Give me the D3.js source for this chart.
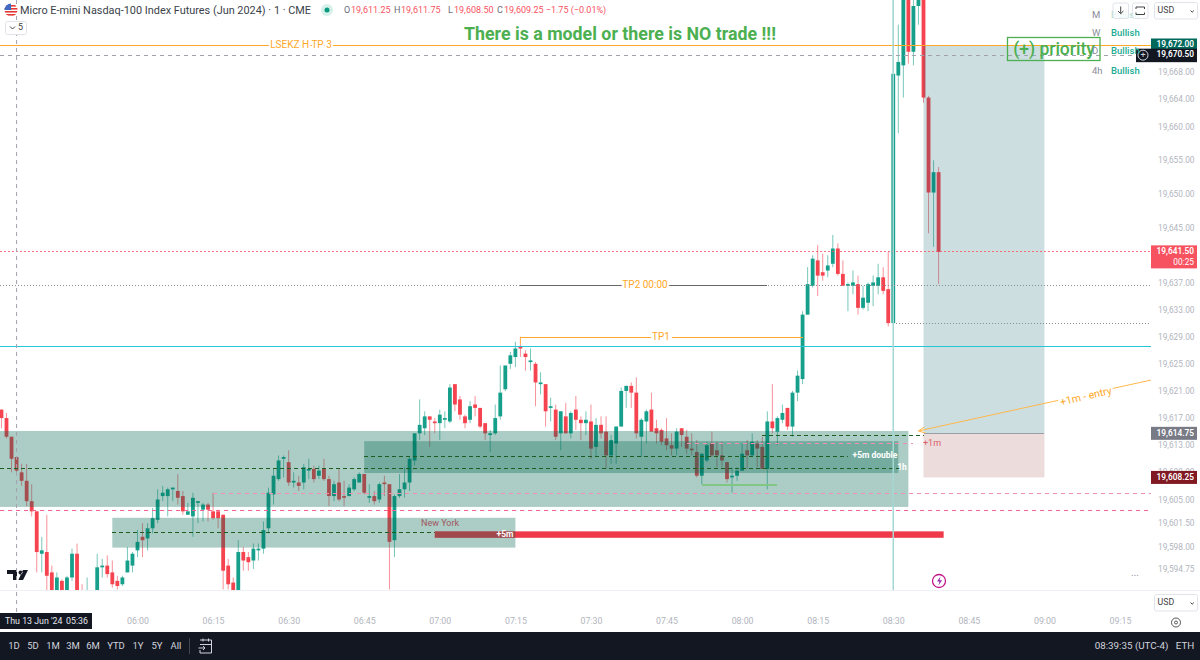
<!DOCTYPE html>
<html lang="en">
<head>
<meta charset="UTF-8">
<title>MNQ 1m</title>
<style>
  html, body { margin: 0; padding: 0; background: #fff; }
  svg { display: block; }
  text { font-family: Roboto, "Noto Sans", sans-serif; }
</style>
</head>
<body>
<svg id="chart" width="1200" height="660"></svg>
<script src="https://cdnjs.cloudflare.com/ajax/libs/d3/7.8.5/d3.min.js"></script>
<script>
// one minute bars, first bar 05:33
const opens = [
  19618.25,19617,19614.25,19611.25,19609,19607.75,19604.75,19603.25,19597,19597.25,
  19594.25,19589,19593,19590,19593.5,19597,19591,19589,19588.5,19589,
  19595,19595.25,19594.25,19593,19592.5,19594.25,19595.25,19597.5,19599.5,19599.25,
  19600.75,19602,19605.5,19605.5,19606.5,19606.25,19605.5,19602.75,19602.5,19604.5,
  19603.5,19604.25,19603.25,19603.25,19602.75,19595.25,19592.75,19590,19597.25,19596.5,
  19596,19597.5,19597.75,19600.75,19605.75,19608,19611,19610.5,19607.5,19607.5,
  19607.5,19609.25,19609.5,19608.5,19609.5,19608,19605.5,19607.5,19605.5,19605.5,
  19606.5,19607.5,19608.75,19605.25,19605.5,19605,19607.5,19607.25,19599,19605.5,
  19606.5,19607.5,19610.75,19614.75,19615.5,19617.25,19616.5,19616.25,19616.75,19616.5,
  19622,19619.75,19617.25,19616.75,19619,19618.5,19616.25,19614.5,19614.75,19617.25,
  19621.25,19625,19626,19627.5,19626.5,19625.25,19625,19622,19622,19618.5,
  19618.25,19614.75,19617.25,19614.75,19618.25,19616.75,19616.25,19616.5,19612.75,19616,
  19615,19611.5,19613.25,19615.75,19621,19621.75,19620.75,19614.25,19616.5,19618.25,
  19615.5,19615.25,19614,19613,19612.5,19615.5,19614.25,19612.5,19612,19608.5,
  19610.75,19613.25,19612.25,19611.5,19610.5,19608.25,19608.5,19609.25,19612.25,19611.5,
  19613.25,19612.75,19609.5,19616.5,19615,19616.75,19618.5,19615.75,19620.75,19622.75,
  19632.25,19636.5,19640.25,19638.5,19638.75,19639.75,19642,19638.25,19636.5,19636.5,
  19636.75,19633.25,19634,19636.5,19636.5,19637.75,19636,19631,19667.5,19669,
  19680,19671,19677.75,19683,19664.25,19650.25,19653.25
];
const highs = [
  19618.25,19617.75,19614.25,19611.25,19610.25,19610.25,19607.25,19603.25,19599.5,19602.75,
  19595.25,19594.25,19593.25,19593.75,19597.75,19598.5,19592.5,19593.5,19590,19597,
  19596.25,19596.75,19596,19593.75,19593.75,19598,19597.25,19600.5,19601.5,19601.5,
  19603.75,19606.5,19607,19606.75,19606.75,19608.75,19606.25,19604.5,19606,19604.75,
  19604.5,19604.5,19606,19603.5,19602.75,19596.25,19593.5,19599,19598,19597.25,
  19598.5,19598.5,19601.75,19606.75,19609.5,19611.5,19611.5,19612.25,19609,19608.5,
  19610.25,19611,19610,19610,19611,19608.5,19607.75,19609.5,19607.75,19607.25,
  19608.25,19609,19608.75,19607.25,19606.25,19607.5,19608.5,19607.25,19605.75,19608.75,
  19609.75,19611.25,19614.75,19619.75,19618,19617.25,19617,19618.25,19618,19622,
  19622,19620.25,19617.5,19619.5,19620.25,19618.5,19616.25,19615.25,19619,19624.75,
  19624.75,19626.75,19628.25,19629,19627,19627.25,19625.25,19623.75,19622,19620,
  19619,19618,19619.25,19618,19620.25,19617.25,19618,19619,19617,19617.25,
  19617.25,19614.5,19615.75,19621.5,19621.75,19622.25,19623,19617,19618.25,19620.75,
  19616.75,19615.5,19617,19614.75,19615.5,19615.5,19615.25,19614.75,19613.75,19611.75,
  19613.5,19615,19613.5,19613.5,19610.5,19609.75,19609.75,19613.25,19613.75,19614.75,
  19613.75,19614.25,19618,19622,19617.25,19619,19618.5,19621,19624,19632.75,
  19639.25,19641,19642.5,19641.25,19641,19644,19642.75,19640.25,19637,19638.75,
  19638,19636.5,19637,19638,19639.75,19639.25,19641.5,19680,19675,19683,
  19683,19679.25,19684,19684,19664.5,19655,19654
];
const lows = [
  19615.5,19614,19609,19609,19607,19604,19602.5,19594.25,19594.25,19590,
  19588,19588,19588.5,19589,19593,19587,19588,19588,19587.5,19588,
  19593.5,19593.5,19592,19591.75,19592.25,19594.25,19594.25,19596.5,19596.5,19597.5,
  19600,19601.5,19604.75,19602.5,19604.75,19604.25,19602.75,19602.75,19599.5,19601.5,
  19601.75,19601.75,19602,19600.75,19591.75,19591.75,19589,19589,19594.5,19594.5,
  19594.75,19596,19597,19600,19604.25,19607.75,19608.25,19607,19606.75,19606.25,
  19606.5,19608,19607.5,19608,19607.75,19604,19604.75,19604.75,19604,19605.5,
  19606.25,19607.5,19605.75,19604.5,19604.25,19604.5,19605.5,19591.75,19596.5,19605.25,
  19605.25,19606.25,19610,19613.75,19614.5,19612.75,19614.75,19613.75,19615.5,19616.25,
  19618,19616.75,19615.5,19616.25,19617.25,19615.5,19613.75,19612,19614.5,19616.75,
  19621,19624.25,19624.5,19626,19624,19624,19618.75,19620.5,19615.75,19616.5,
  19613.75,19612.25,19614.75,19614,19615.25,19613.75,19614.5,19611,19611.25,19614,
  19609.5,19610.25,19610.25,19615.75,19618.5,19618.5,19614,19611.25,19613.25,19615,
  19613.25,19613,19612.25,19611.5,19611.5,19612.75,19611.75,19611.5,19608.25,19607.25,
  19610.5,19611.25,19609.75,19609.75,19607.5,19606,19607.75,19609.25,19609.5,19611.25,
  19609.75,19609.5,19606.5,19614.75,19613,19616.25,19615.25,19614.25,19619.5,19622,
  19632.25,19636.25,19635,19637.25,19637.75,19639.25,19638,19636.5,19632.75,19635.25,
  19632.25,19633,19632.75,19633.5,19635.25,19635.25,19630.5,19630.75,19659,19664.25,
  19669.25,19669,19675,19663.5,19644.25,19642.25,19636.75
];
const closes = [
  19617,19614.25,19611,19609.25,19607.75,19604.75,19603.25,19597.25,19597.5,19593.75,
  19589,19593.5,19589.5,19593.5,19597,19589,19589,19590.5,19589.5,19595,
  19595.25,19594,19592.5,19592.25,19593.5,19596,19597,19598.75,19599,19600.75,
  19602.25,19605,19606,19606.5,19606.75,19605.25,19603.25,19603.25,19605.25,19604.75,
  19604.25,19603.5,19602.25,19602.25,19594.5,19592.5,19590,19597.25,19596,19595.75,
  19597.75,19597.75,19600.5,19606,19608.5,19610.75,19611.25,19607.5,19607.75,19607,
  19609.75,19609.5,19608,19609.25,19608,19605.5,19607.25,19605,19605.25,19606.75,
  19608,19608.75,19606,19605.5,19604.75,19607.25,19607.25,19598.75,19605.5,19606.5,
  19607.5,19611,19614.75,19616,19617.25,19616.75,19616.25,19617.5,19617,19621.5,
  19619,19617.5,19616.25,19618.75,19618.5,19615.75,19614.75,19614.75,19617,19620.75,
  19624.75,19626.25,19627.25,19627.25,19626,19625.5,19622.25,19622.25,19618,19618.75,
  19614.25,19618,19614.75,19617.75,19616.75,19616.25,19616.75,19612.5,19616,19614.75,
  19611.5,19613.75,19615.75,19621,19621.75,19620.75,19614.75,19616.75,19618,19615,
  19614.75,19613.5,19613,19612.5,19615,19614.5,19612.5,19612.25,19608.5,19611.75,
  19613,19611.5,19611.5,19610.75,19608,19608.5,19609.25,19611.75,19611.5,19613.5,
  19612.5,19609.5,19616.5,19615.5,19617,19617.75,19615.75,19620.75,19623.25,19632.25,
  19636.75,19640.5,19638,19638,19639.5,19642,19638.25,19636.5,19636.75,19637,
  19633.25,19634.75,19636.75,19637,19637.75,19635.75,19631,19667.75,19669.5,19681,
  19671,19677.75,19680.75,19664.25,19650.25,19653.25,19641.5
];

const priceTicks = [19668,19664,19660,19655,19650,19645,19637,19633,19629,19625,19621,19617,19613,19609,19605,19601.5,19598,19594.75];
const timeTicks = ["06:00","06:15","06:30","06:45","07:00","07:15","07:30","07:45","08:00","08:15","08:30","08:45","09:00","09:15"];
const rangeButtons = ["1D","5D","1M","3M","6M","YTD","1Y","5Y","All"];
const bias = [["M","Bullish"],["W","Bullish"],["D","Bullish"],["4h","Bullish"]];

const upColor = "#089981", downColor = "#f23645";
const svg = d3.select("#chart");
const parseT = s => { const p = s.split(":"); return new Date(2024, 5, 13, +p[0], +p[1]); };

const x = d3.scaleTime().domain([parseT("06:00"), parseT("09:15")]).range([137.5, 1120]);
const y = d3.scaleLinear().domain([19672, 19594.75]).range([45, 569]);
const barTime = i => new Date(+parseT("05:33") + i * 60000);
const plotW = 1151, plotH = 590;

svg.append("defs").append("clipPath").attr("id", "plot")
  .append("rect").attr("width", plotW).attr("height", plotH);
svg.select("defs").append("clipPath").attr("id", "flag")
  .append("circle").attr("cx", 11).attr("cy", 10).attr("r", 6.5);

function txt(g, px, py, s, size, fill, anchor, weight) {
  return g.append("text").attr("x", px).attr("y", py).text(s)
    .attr("font-size", size).attr("fill", fill)
    .attr("text-anchor", anchor || "start").attr("font-weight", weight || 400)
    .attr("dominant-baseline", "middle");
}

const plot = svg.append("g").attr("clip-path", "url(#plot)");

// candles first, the drawings are laid over them
const candles = plot.append("g").selectAll("g").data(opens).join("g");
candles.append("line")
  .attr("x1", (d, i) => x(barTime(i))).attr("x2", (d, i) => x(barTime(i)))
  .attr("y1", (d, i) => y(highs[i])).attr("y2", (d, i) => y(lows[i]))
  .attr("stroke", (d, i) => closes[i] >= d ? upColor : downColor)
  .attr("stroke-opacity", 0.55).attr("stroke-width", 1);
candles.append("rect")
  .attr("x", (d, i) => x(barTime(i)) - 1.9).attr("width", 3.8)
  .attr("y", (d, i) => y(Math.max(d, closes[i])))
  .attr("height", (d, i) => Math.max(1, Math.abs(y(d) - y(closes[i]))))
  .attr("fill", (d, i) => closes[i] >= d ? "#16a08c" : "#f5434f");

const draw = plot.append("g");
function hline(t0, t1, price, stroke, width, dash) {
  return draw.append("line")
    .attr("x1", t0 ? x(parseT(t0)) : 0).attr("x2", t1 ? x(parseT(t1)) : plotW)
    .attr("y1", y(price)).attr("y2", y(price))
    .attr("stroke", stroke).attr("stroke-width", width)
    .attr("stroke-dasharray", dash || null)
    .attr("shape-rendering", "crispEdges");
}
function box(t0, t1, top, bottom, fill) {
  return draw.append("rect")
    .attr("x", t0 ? x(parseT(t0)) : -5).attr("width", x(parseT(t1)) - (t0 ? x(parseT(t0)) : -5))
    .attr("y", y(top)).attr("height", y(bottom) - y(top)).attr("fill", fill);
}

// zones
const zoneFill = "rgba(0,100,80,0.325)";
box(null, "08:33", 19615.1, 19603.9, zoneFill);
box("06:45", "08:31", 19613.6, 19608.9, zoneFill);
box("05:55", "07:15", 19602.3, 19597.9, zoneFill);

// position tool
box("08:36", "09:00", 19672, 19614.75, "rgba(0,90,100,0.2)");
box("08:36", "09:00", 19614.75, 19608.25, "rgba(127,20,20,0.15)");
hline("08:36", "09:00", 19614.75, "#9aa0a6", 1);

// levels
hline(null, null, 19672, "#ffa726", 1);
hline(null, null, 19670.5, "#a0a3ad", 1, "4 4");
hline(null, null, 19641.5, "#f7525f", 1, "2 2").attr("opacity", 0.8);
hline(null, null, 19636.5, "#8a8d96", 1, "1 2");
hline("08:30", null, 19631, "#8a8d96", 1, "1 2");
hline(null, null, 19627.6, "#26c6da", 1);
hline("06:15", null, 19605.9, "#f48fb1", 1, "4 4");
hline(null, null, 19603.4, "#f06292", 1, "4 4");
hline("07:49", "08:34", 19613.2, "#f48fb1", 1, "4 4");
hline(null, "08:32", 19609.6, "#1b5e20", 1, "4 3");
hline("06:45", "08:21", 19611.3, "#1b5e20", 1, "4 3");
hline("05:55", "07:12", 19600.1, "#1b5e20", 1, "4 3");
hline("08:04", "08:36", 19614.4, "#1b5e20", 1, "4 3");
hline("07:52", "08:07", 19607.2, "#81c784", 2);

// TP lines
hline("07:16", "07:36", 19636.5, "#666", 1);
hline("07:45", "08:05", 19636.5, "#666", 1);
hline("07:16", "07:42", 19628.9, "#ffa726", 1);
hline("07:46", "08:12", 19628.9, "#ffa726", 1);
draw.append("line").attr("x1", x(parseT("07:16"))).attr("x2", x(parseT("07:16")))
  .attr("y1", y(19628.9)).attr("y2", y(19627.9)).attr("stroke", "#ffb74d");

// session bar and vertical line
draw.append("rect").attr("x", x(parseT("06:59"))).attr("width", x(parseT("08:40")) - x(parseT("06:59")))
  .attr("y", y(19600.3)).attr("height", y(19599.35) - y(19600.3)).attr("fill", "#ef3a4a");
box("05:55", "07:15", 19600.3, 19599.35, "rgba(0,100,80,0.325)").attr("x", x(parseT("06:59")))
  .attr("width", x(parseT("07:15")) - x(parseT("06:59")));
draw.append("line").attr("x1", x(parseT("08:30"))).attr("x2", x(parseT("08:30")))
  .attr("y1", 0).attr("y2", plotH).attr("stroke", "#a5d8d2").attr("stroke-width", 1.5);

// entry arrow
const ax0 = x(parseT("08:35")), ay0 = y(19615.1), ax1 = plotW, ay1 = y(19622.6);
draw.append("line").attr("x1", ax0).attr("y1", ay0).attr("x2", ax1).attr("y2", ay1)
  .attr("stroke", "#ffb74d").attr("stroke-width", 1);
draw.append("path").attr("d", `M${ax0 + 6},${ay0 - 4}L${ax0},${ay0}L${ax0 + 7},${ay0 + 2}`)
  .attr("fill", "none").attr("stroke", "#ffb74d").attr("stroke-width", 1);
const entry = draw.append("g").attr("transform", "translate(1086,397) rotate(-13)");
entry.append("rect").attr("x", -28).attr("y", -7).attr("width", 56).attr("height", 14).attr("fill", "#fff");
txt(entry, 0, 0, "+1m - entry", 10.5, "#ffa726", "middle");

// drawing labels
const halo = sel => sel.attr("stroke", "#fff").attr("stroke-width", 4).attr("paint-order", "stroke");
halo(txt(draw, 301, 45.5, "LSEKZ H TP 3", 10, "#ffa726", "middle"));
halo(txt(draw, 645, 285.5, "TP2 00:00", 10, "#ffa726", "middle"));
txt(draw, 661, 337.5, "TP1", 10, "#ffa726", "middle");
txt(draw, 440, 524, "New York", 9, "#a0565f", "middle");
txt(draw, 505, 534.5, "+5m", 8.5, "#fff", "middle", 700);
txt(draw, 875, 456, "+5m double", 8.5, "#fff", "middle", 700);
txt(draw, 902, 468, "1h", 8.5, "#fff", "middle", 700);
txt(draw, 932, 443.5, "+1m", 9, "#d9606a", "middle");

// tv logo and small marks
draw.append("path").attr("fill", "#131722")
  .attr("d", "M7,570h10v10h-4v-6h-6zM20.5,570.5a2,2 0 1,0 .01,0zM23,570h5l-5,10h-4.6z");
const bolt = draw.append("g");
bolt.append("circle").attr("cx", 939).attr("cy", 581).attr("r", 6.5)
  .attr("fill", "#fff").attr("stroke", "#c2188b").attr("stroke-width", 1.3);
bolt.append("path").attr("d", "M940.5,576.5l-3.5,5h2.5l-1,4l3.6,-5.2h-2.5z").attr("fill", "#9c27b0");
txt(draw, 1135, 573, "...", 10, "#9598a1", "middle");

// crosshair vertical, runs under the time axis
svg.append("line").attr("x1", x(parseT("05:36"))).attr("x2", x(parseT("05:36")))
  .attr("y1", 0).attr("y2", 613).attr("stroke", "#a0a3ad").attr("stroke-dasharray", "4 4");

// axes
svg.append("line").attr("x1", 0).attr("x2", 1200).attr("y1", 590.5).attr("y2", 590.5).attr("stroke", "#eef0f5");

const yAxis = d3.axisRight(y).tickValues(priceTicks).tickSize(0).tickPadding(0).tickFormat(d3.format(",.2f"));
const yG = svg.append("g").attr("transform", "translate(1158,0)").call(yAxis);
yG.select(".domain").remove();
yG.selectAll("text").attr("fill", "#b2b5be").attr("font-size", 8.3).attr("font-family", "Roboto, sans-serif");

const xAxis = d3.axisBottom(x).tickValues(timeTicks.map(parseT)).tickSize(0).tickPadding(0).tickFormat(d3.timeFormat("%H:%M"));
const xG = svg.append("g").attr("transform", "translate(0,618)").call(xAxis);
xG.select(".domain").remove();
xG.selectAll("text").attr("fill", "#b2b5be").attr("font-size", 8.8).attr("font-family", "Roboto, sans-serif");

// price labels on the scale
function priceTag(price, fill, h, x0) {
  const s = svg.append("g");
  s.append("rect").attr("x", x0 || plotW).attr("width", 1197 - (x0 || plotW))
    .attr("y", y(price) - 6.5).attr("height", h || 13).attr("fill", fill);
  txt(s, 1194, y(price), d3.format(",.2f")(price), 8.3, "#fff", "end", 600);
  return s;
}
priceTag(19672, "#00695c");
const cross = priceTag(19670.5, "#131722", 13.5, 1136);
cross.append("circle").attr("cx", 1143).attr("cy", y(19670.5)).attr("r", 5).attr("fill", "none").attr("stroke", "#d1d4dc");
txt(cross, 1143, y(19670.5), "+", 9, "#d1d4dc", "middle");
const last = priceTag(19641.5, "#f7525f", 23);
txt(last, 1194, y(19641.5) + 11, "00:25", 8.3, "#fff", "end");
priceTag(19614.75, "#787b86");
priceTag(19608.25, "#801922");

// time label
svg.append("rect").attr("x", 0).attr("y", 613).attr("width", 92).attr("height", 16).attr("fill", "#131722");
txt(svg, 5, 622, "Thu 13 Jun '24", 8.8, "#e6e8ee");
txt(svg, 66, 622, "05:36", 8.8, "#e6e8ee");

// header
const head = svg.append("g");
head.append("circle").attr("cx", 11).attr("cy", 10).attr("r", 6.5).attr("fill", "#fff");
[5, 8, 11, 14].forEach(v => head.append("rect").attr("x", 4).attr("y", v).attr("width", 14).attr("height", 1.6)
  .attr("fill", "#e53935").attr("clip-path", "url(#flag)"));
head.append("rect").attr("x", 4).attr("y", 3).attr("width", 7).attr("height", 7)
  .attr("fill", "#3f6ac4").attr("clip-path", "url(#flag)");
txt(head, 20, 11, "Micro E-mini Nasdaq-100 Index Futures (Jun 2024) · 1 · CME", 10.9, "#3b3f4a");
head.append("circle").attr("cx", 327).attr("cy", 10).attr("r", 6).attr("fill", "#d6f0ea");
head.append("circle").attr("cx", 327).attr("cy", 10).attr("r", 2.5).attr("fill", "#089981");
const red = "#f7525f", grey = "#6a6d78";
[[344, "O", grey], [351, "19,611.25", red], [394, "H", grey], [401, "19,611.75", red],
 [448, "L", grey], [454, "19,608.50", red], [497, "C", grey], [504, "19,609.25 −1.75 (−0.01%)", red]]
  .forEach(d => txt(head, d[0], 11, d[1], 9, d[2]));
head.append("rect").attr("x", 5.5).attr("y", 21.5).attr("width", 21).attr("height", 13).attr("rx", 2)
  .attr("fill", "#fff").attr("stroke", "#e0e3eb");
head.append("path").attr("d", "M10,26.5l2.5,2.5l2.5,-2.5").attr("fill", "none").attr("stroke", "#444");
txt(head, 18, 28, "5", 9, "#444");

txt(svg, 620, 35, "There is a model or there is NO trade !!!", 17.8, "#4caf50", "middle", 700);
svg.append("rect").attr("x", 1007.5).attr("y", 37.5).attr("width", 92.5).attr("height", 23)
  .attr("fill", "none").attr("stroke", "#4caf50").attr("stroke-width", 1.3);
txt(svg, 1054, 50, "(+) priority", 17.5, "#4caf50", "middle", 500);

// bias table, rows drawn behind the buttons
const tbl = svg.append("g");
const rowY = [15, 33, 51, 71];
bias.forEach((r, i) => {
  txt(tbl, 1092, rowY[i], r[0], 9.5, "#8a8d96");
  txt(tbl, 1111, rowY[i], r[1], 9.5, "#22ab94", "start", 500);
});
tbl.selectAll("text").filter((d, i) => i === 1).attr("opacity", 0.4);

function button(bx, by, w, h) {
  return svg.append("rect").attr("x", bx).attr("y", by).attr("width", w).attr("height", h).attr("rx", 2)
    .attr("fill", "rgba(255,255,255,0.75)").attr("stroke", "#e0e3eb");
}
button(1113, 3, 15.5, 15.5);
button(1132.5, 3, 15.5, 15.5);
svg.append("path").attr("d", "M1120.7,6.5v7M1118,11l2.7,2.7l2.7,-2.7M1136,9v-2h8.5v2M1136,12.5v2h8.5v-2")
  .attr("fill", "none").attr("stroke", "#444");
function usd(by) {
  svg.append("rect").attr("x", 1154.5).attr("y", by).attr("width", 43).attr("height", 16.5).attr("rx", 2)
    .attr("fill", "#fff").attr("stroke", "#e0e3eb");
  txt(svg, 1157.5, by + 8.5, "USD", 8.8, "#444");
  svg.append("path").attr("d", `M1190.5,${by + 8}l1.7,1.7l1.7,-1.7`).attr("fill", "none").attr("stroke", "#444");
}
usd(2.5);
usd(594.5);

// gear
svg.append("circle").attr("cx", 1176).attr("cy", 622.5).attr("r", 4.5).attr("fill", "none").attr("stroke", "#555");
svg.append("circle").attr("cx", 1176).attr("cy", 622.5).attr("r", 1.5).attr("fill", "none").attr("stroke", "#555");

// bottom bar
const bar = svg.append("g");
bar.append("rect").attr("x", 0).attr("y", 632).attr("width", 1200).attr("height", 28).attr("fill", "#131722");
const btnPos = [14, 33, 53, 73, 93, 116, 138, 157, 176];
rangeButtons.forEach((b, i) => txt(bar, btnPos[i], 646, b, 9.5, "#d1d4dc", "middle"));
bar.append("line").attr("x1", 189.5).attr("x2", 189.5).attr("y1", 638).attr("y2", 654).attr("stroke", "#434651");
bar.append("path").attr("fill", "none").attr("stroke", "#d1d4dc")
  .attr("d", "M200,640h11.5v13h-11.5v-3M200,644.5h11.5M203,638.5v3M208.5,638.5v3M198.5,648h6M203,646l2,2l-2,2");
txt(bar, 1131.5, 646, "08:39:35 (UTC-4)", 9.8, "#d1d4dc", "middle");
txt(bar, 1185, 646, "ETH", 9.8, "#d1d4dc", "middle");
</script>
</body>
</html>
